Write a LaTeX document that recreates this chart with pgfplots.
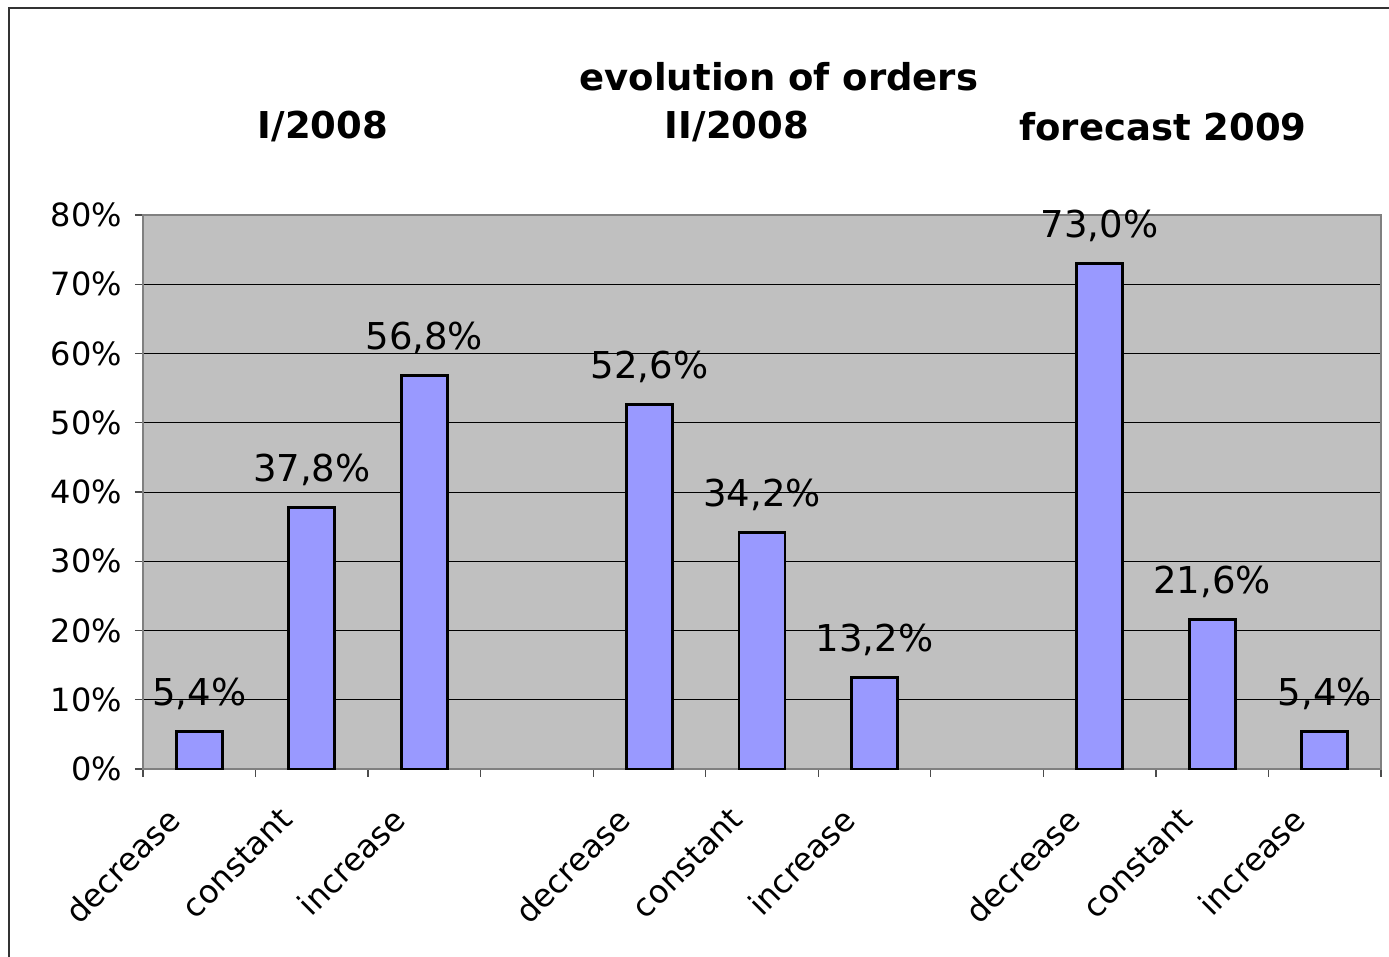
\documentclass[border=0pt]{standalone}
\usepackage{fontspec}
\setmainfont{DejaVu Sans}
\usepackage{pgfplots}
\pgfplotsset{compat=1.18}
\definecolor{plotbg}{HTML}{C0C0C0}
\definecolor{barfill}{HTML}{9999FF}
\definecolor{framegray}{HTML}{808080}
\begin{document}
\begin{tikzpicture}
\path[use as bounding box] (-71.5pt,-94pt) rectangle (623pt,384.5pt);
\draw[line width=0.8pt, black!80] (-67pt,-100pt) -- (-67pt,380.5pt) -- (630pt,380.5pt);
\begin{axis}[at={(0,0)}, anchor=south west, scale only axis,
  width=619pt, height=277pt,
  xmin=-0.5, xmax=10.5, ymin=0, ymax=80,
  /pgf/number format/assume math mode=true,
  axis background/.style={fill=plotbg},
  axis line style={draw=framegray, line width=1pt},
  ybar, bar width=23pt,
  ytick={0,10,...,80},
  yticklabel={\pgfmathprintnumber{\tick}\%},
  yticklabel style={font=\fontsize{16}{19}\selectfont, xshift=-3pt},
  ymajorgrids, major grid style={black, line width=0.5pt},
  tick align=outside,
  xtick pos=bottom, ytick pos=left,
  ytick style={draw=black!70, line width=0.6pt},
  major tick length=4pt,
  xtick={-0.5,0.5,...,10.5}, xticklabels={},
  xtick style={draw=black!70, line width=0.6pt},
  extra x ticks={0,1,2,4,5,6,8,9,10},
  extra x tick labels={decrease,constant,increase,decrease,constant,increase,decrease,constant,increase},
  extra x tick style={major tick length=0pt, grid=none},
  xticklabel style={font=\fontsize{16}{19}\selectfont, xshift=-10.3pt, yshift=-20pt, rotate=45, anchor=east},
  nodes near coords={\pgfmathprintnumber[fixed,fixed zerofill,precision=1,use comma]{\pgfplotspointmeta}\%},
  every node near coord/.append style={font=\fontsize{18.5}{22}\selectfont, anchor=base, yshift=13pt, black},
  clip=false,
]
\addplot[fill=barfill, draw=black, line width=1.4pt] coordinates {
  (0,5.4) (1,37.8) (2,56.8) (4,52.6) (5,34.2) (6,13.2) (8,73.0) (9,21.6) (10,5.4)
};
\node[font=\bfseries\fontsize{18.5}{22}\selectfont] at (rel axis cs:0.5137,1.249) {evolution of orders};
\node[font=\bfseries\fontsize{18.5}{22}\selectfont] at (rel axis cs:0.1454,1.159) {I/2008};
\node[font=\bfseries\fontsize{18.5}{22}\selectfont] at (rel axis cs:0.4798,1.159) {II/2008};
\node[font=\bfseries\fontsize{18.5}{22}\selectfont] at (rel axis cs:0.8239,1.159) {forecast 2009};
\end{axis}
\end{tikzpicture}
\end{document}
